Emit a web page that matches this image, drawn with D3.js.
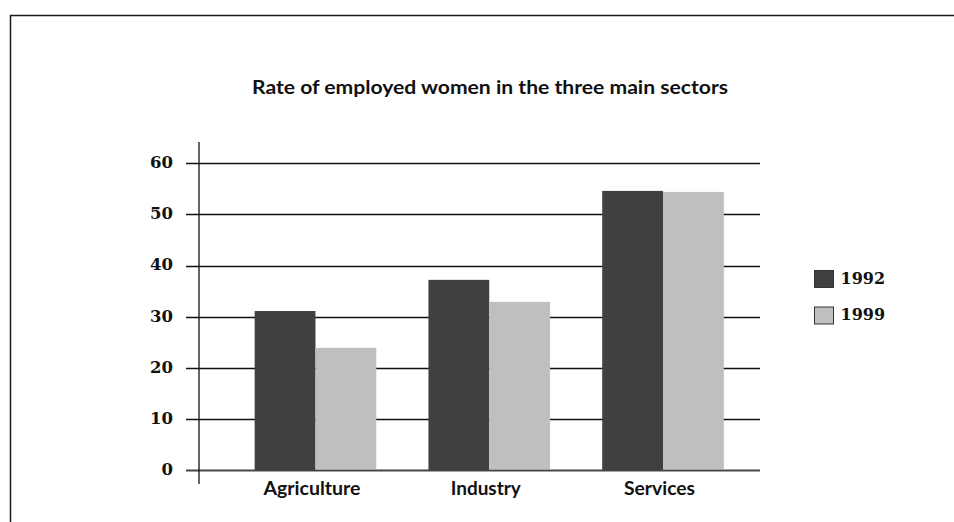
<!DOCTYPE html>
<html>
<head>
<meta charset="utf-8">
<script src="https://cdn.jsdelivr.net/npm/d3@7"></script>
<style>
  html, body { margin: 0; padding: 0; background: #fff; }
  svg { display: block; }
</style>
</head>
<body>
<svg id="chart" width="954" height="522"></svg>
<script>
// Chart data
const categories = ["Agriculture", "Industry", "Services"];
const seriesNames = ["1992", "1999"];
const values1992 = [31.1, 37.2, 54.6];
const values1999 = [23.9, 32.9, 54.4];
const yTicks = [0, 10, 20, 30, 40, 50, 60];
const titleText = "Rate of employed women in the three main sectors";

const colors = { "1992": "#404040", "1999": "#bfbfbf" };
const seriesValues = { "1992": values1992, "1999": values1999 };
const labelWidths = { "Agriculture": 97, "Industry": 70, "Services": 71 };

const svg = d3.select("#chart");

// Page frame: top and left rules
svg.append("path")
  .attr("d", "M10.5,522 V15.5 H954")
  .attr("fill", "none")
  .attr("stroke", "#1a1a1a")
  .attr("stroke-width", 1.5);

// Title
svg.append("text")
  .attr("x", 490)
  .attr("y", 94)
  .attr("text-anchor", "middle")
  .attr("font-family", "Lato, 'Open Sans', sans-serif")
  .attr("font-weight", "bold")
  .attr("font-size", 18.5)
  .attr("fill", "#111")
  .attr("textLength", 476)
  .attr("lengthAdjust", "spacingAndGlyphs")
  .text(titleText);

// Scales
const y = d3.scaleLinear().domain([0, 60]).range([470, 163.3]);
const x0 = d3.scaleBand().domain(categories).range([228.6, 749.9]).paddingInner(0.3).paddingOuter(0.15);
const x1 = d3.scaleBand().domain(seriesNames).range([0, x0.bandwidth()]);

const plotLeft = 199, plotRight = 760;

// Gridlines with short ticks extending left of the axis
const grid = svg.append("g").attr("class", "grid");
grid.selectAll("line")
  .data(yTicks)
  .join("line")
  .attr("x1", 186)
  .attr("x2", plotRight)
  .attr("y1", d => Math.round(y(d)) + 0.5)
  .attr("y2", d => Math.round(y(d)) + 0.5)
  .attr("stroke", "#111")
  .attr("stroke-width", 1.3);

// Bars
const groups = svg.append("g").selectAll("g")
  .data(categories)
  .join("g")
  .attr("transform", d => `translate(${x0(d)},0)`);

groups.selectAll("rect")
  .data((d, i) => seriesNames.map(s => ({ s, v: seriesValues[s][i] })))
  .join("rect")
  .attr("x", d => x1(d.s))
  .attr("width", x1.bandwidth())
  .attr("y", d => y(d.v))
  .attr("height", d => y(0) - y(d.v))
  .attr("fill", d => colors[d.s]);

// Redraw the baseline on top of bars
svg.append("line")
  .attr("x1", 186).attr("x2", plotRight)
  .attr("y1", Math.round(y(0)) + 0.5).attr("y2", Math.round(y(0)) + 0.5)
  .attr("stroke", "#444").attr("stroke-width", 1.3);

// Vertical axis line
svg.append("line")
  .attr("x1", plotLeft).attr("x2", plotLeft)
  .attr("y1", 142).attr("y2", 484)
  .attr("stroke", "#111").attr("stroke-width", 1.3);

// Y tick labels
svg.append("g").selectAll("text")
  .data(yTicks)
  .join("text")
  .attr("x", 173)
  .attr("y", d => y(d))
  .attr("dy", "0.3em")
  .attr("text-anchor", "end")
  .attr("font-family", "'DejaVu Serif', serif")
  .attr("font-weight", "bold")
  .attr("font-size", 16.5)
  .attr("fill", "#111")
  .text(d => d);

// Category labels
svg.append("g").selectAll("text")
  .data(categories)
  .join("text")
  .attr("x", d => x0(d) + x0.bandwidth() / 2 - 3.5)
  .attr("y", 495)
  .attr("text-anchor", "middle")
  .attr("font-family", "Lato, 'Open Sans', sans-serif")
  .attr("font-weight", "bold")
  .attr("font-size", 19)
  .attr("fill", "#111")
  .attr("textLength", d => labelWidths[d])
  .attr("lengthAdjust", "spacingAndGlyphs")
  .text(d => d);

// Legend
const legend = svg.append("g").selectAll("g")
  .data(seriesNames)
  .join("g")
  .attr("transform", (d, i) => `translate(814.5, ${270.5 + i * 36.5})`);

legend.append("rect")
  .attr("width", 19)
  .attr("height", 17)
  .attr("fill", d => colors[d])
  .attr("stroke", "#333")
  .attr("stroke-width", 1);

legend.append("text")
  .attr("x", 26)
  .attr("y", 13)
  .attr("font-family", "'DejaVu Serif', serif")
  .attr("font-weight", "bold")
  .attr("font-size", 16)
  .attr("fill", "#111")
  .text(d => d);
</script>
</body>
</html>
